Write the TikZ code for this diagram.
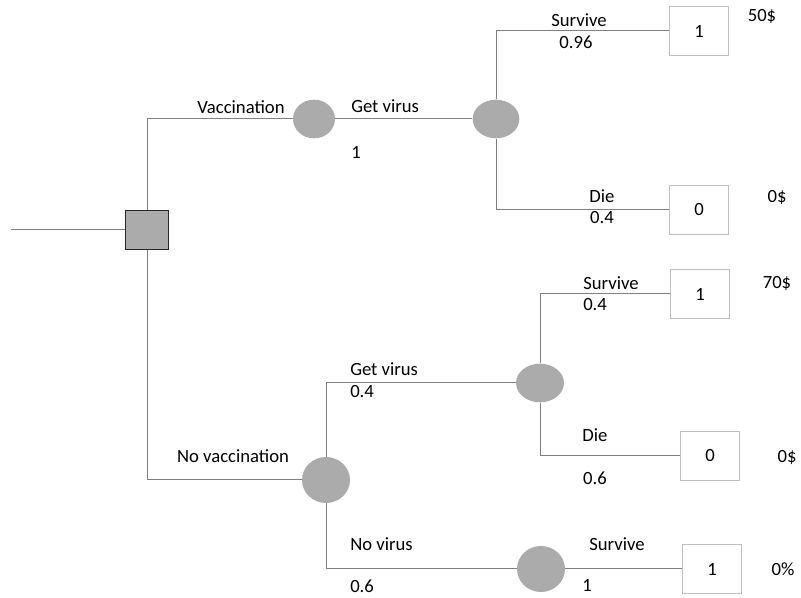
\documentclass[tikz,border=0pt]{standalone}
\usepackage{fontspec}
\setmainfont{Carlito}
\usetikzlibrary{shapes.geometric}

\begin{document}
\begin{tikzpicture}[
    x=0.75pt, y=-0.75pt,
    font=\fontsize{14}{16}\selectfont,
    branch/.style={draw=black!50, line width=0.75pt},
    decision/.style={rectangle, draw=black!85, fill=black!33, line width=0.9pt,
                     minimum width=32pt, minimum height=29pt, inner sep=0pt},
    chance/.style={ellipse, fill=black!33, inner sep=0pt},
    payoff/.style={rectangle, draw=black!25, fill=white, line width=0.75pt,
                   minimum width=44pt, minimum height=37pt, inner sep=0pt},
    lbl/.style={anchor=base, inner sep=0pt},
    lblw/.style={anchor=base west, inner sep=0pt},
]
\useasboundingbox (0,0) rectangle (801,598);

% ---- decision and chance nodes ----
\coordinate (root) at (11,230);
\node[decision] (dec) at (147,230) {};
\node[chance, minimum width=31.5pt, minimum height=29pt] (vacc)  at (314,119) {};
\node[chance, minimum width=35pt,   minimum height=29pt] (virA)  at (496,119) {};
\node[chance, minimum width=36pt,   minimum height=34.5pt] (novac) at (326,480) {};
\node[chance, minimum width=36pt,   minimum height=29pt] (virB)  at (540,383) {};
\node[chance, minimum width=36pt,   minimum height=34.5pt] (novir) at (541,569) {};

% ---- end nodes ----
\node[payoff] (endA) at (699,31)  {1};
\node[payoff] (endB) at (699,210) {0};
\node[payoff] (endC) at (700,294) {1};
\node[payoff] (endD) at (710,456) {0};
\node[payoff] (endE) at (712,569) {1};

% ---- branches ----
\draw[branch] (root) -- (dec);
\draw[branch] (dec) |- (vacc);
\draw[branch] (dec) |- (novac);
\draw[branch] (vacc) -- (virA);
\draw[branch] (virA) |- (endA);
\draw[branch] (virA) |- (endB);
\draw[branch] (novac) |- (virB);
\draw[branch] (novac) |- (novir);
\draw[branch] (virB) |- (endC);
\draw[branch] (virB) |- (endD);
\draw[branch] (novir) -- (endE);

% ---- branch labels ----
\node[lbl]  (tVacc)  at (241,114) {Vaccination};
\node[lblw] (tGetA)  at (351,113) {Get virus};
\node[lblw] (pGetA)  at (351,159) {1};
\node[lbl]  (tSurA)  at (579,27)  {Survive};
\node[lbl]  (pSurA)  at (576,49)  {0.96};
\node[lbl]  (tDieA)  at (602,203) {Die};
\node[lbl]  (pDieA)  at (602,224) {0.4};
\node[lbl]  (tNoVac) at (233,463) {No vaccination};
\node[lblw] (tGetB)  at (350,376) {Get virus};
\node[lblw] (pGetB)  at (350,398) {0.4};
\node[lbl]  (tSurB)  at (611,290) {Survive};
\node[lblw] (pSurB)  at (583,311) {0.4};
\node[lbl]  (tDieB)  at (595,442) {Die};
\node[lbl]  (pDieB)  at (595,485) {0.6};
\node[lblw] (tNoVir) at (350,551) {No virus};
\node[lblw] (pNoVir) at (350,593) {0.6};
\node[lbl]  (tSurC)  at (617,551) {Survive};
\node[lbl]  (pSurC)  at (587,592) {1};

% ---- values ----
\node[lbl] (vA) at (762,22)  {50\$};
\node[lbl] (vB) at (777,203) {0\$};
\node[lbl] (vC) at (777,289) {70\$};
\node[lbl] (vD) at (787,463) {0\$};
\node[lbl] (vE) at (783,576) {0\%};

\end{tikzpicture}
\end{document}
